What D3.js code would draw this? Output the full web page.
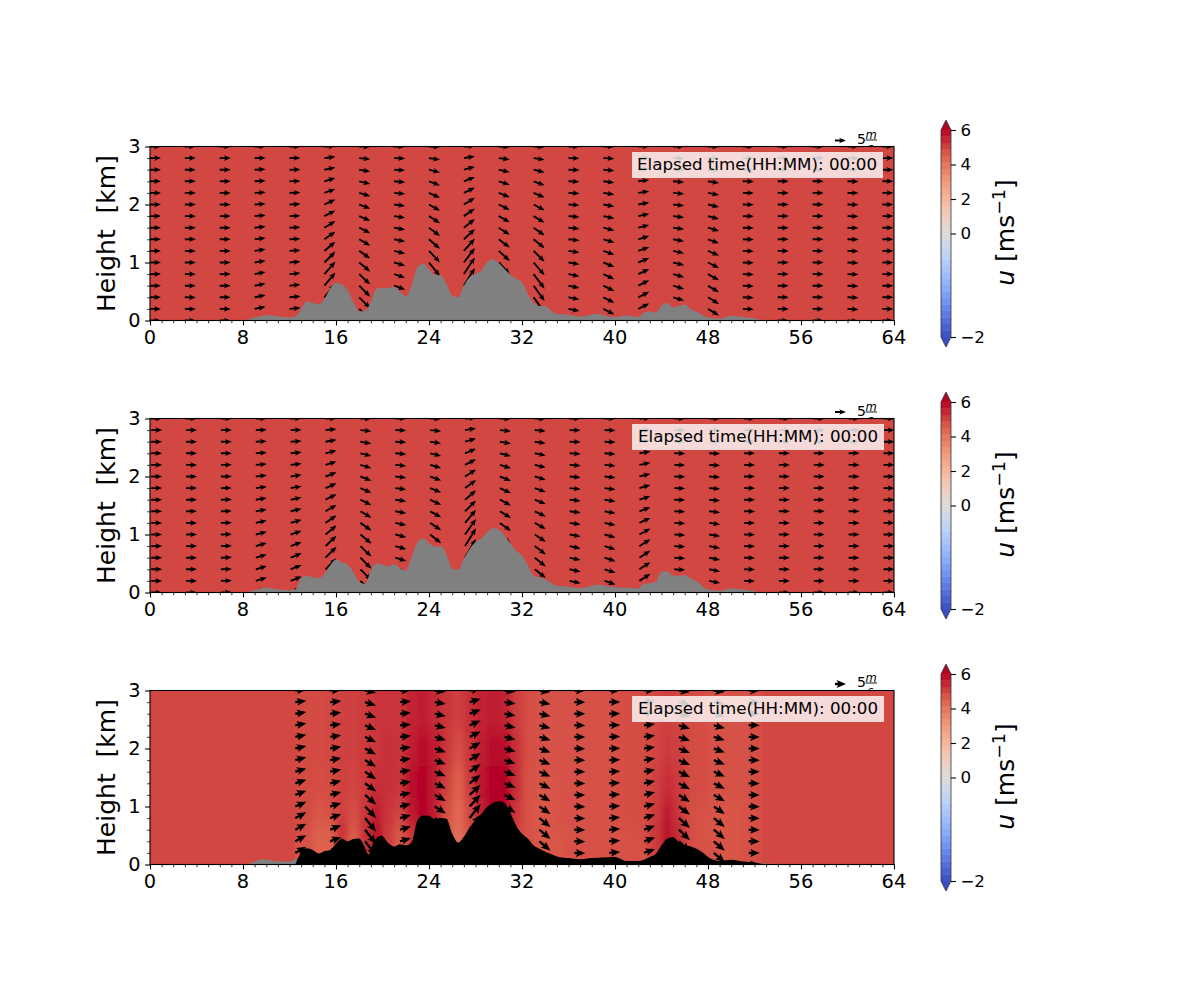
<!DOCTYPE html>
<html><head><meta charset="utf-8">
<script src="https://cdn.jsdelivr.net/npm/d3@7"></script>
<style>html,body{margin:0;padding:0;background:#fff}svg{display:block}text{font-family:"DejaVu Sans";fill:#000;white-space:pre}</style>
</head><body><svg id="c" width="1200" height="1000"></svg>
<script>
// ---- data ----
const xTicks=[0,8,16,24,32,40,48,56,64];
const yTicks=[0,1,2,3];
const cbTicks=[-2,0,2,4,6];
const panelTops=[146.5,418.5,690.5];
const timeLabel="Elapsed time(HH:MM): 00:00";
const baseU=4.9;
const terrainX1=[0,8,9,10,11,12,12.5,13,13.5,14,14.5,15,15.5,16,16.5,17,17.5,18,18.5,19,19.5,20,20.5,21,21.5,22,22.5,23,23.5,24,24.5,25,25.5,26,26.5,27,27.5,28,28.5,29,29.5,30,30.5,31,31.5,32,32.5,33,33.5,34,34.5,35,36,37,38,38.5,39,40,41,42,42.5,43,43.5,44,44.5,45,45.5,46,46.5,47,48,49,50,51,52,53,64];
const terrain1=[0,0,.05,.09,.075,.05,.07,.2,.33,.3,.28,.37,.55,.65,.62,.52,.32,.16,.17,.32,.55,.56,.56,.58,.5,.42,.6,.92,.98,.89,.79,.78,.63,.43,.4,.6,.75,.8,.86,1,1.05,.99,.89,.79,.72,.66,.46,.3,.25,.25,.17,.11,.1,.07,.1,.115,.09,.06,.085,.06,.14,.155,.14,.26,.3,.23,.25,.275,.2,.155,.05,.03,.08,.06,.035,0,0];
const terrain2=[0,0,.04,.08,.05,.04,.05,.25,.29,.26,.25,.32,.47,.57,.52,.48,.35,.18,.15,.38,.5,.48,.45,.49,.42,.38,.6,.87,.93,.85,.79,.8,.66,.41,.39,.58,.75,.87,.93,1.04,1.11,1.08,.98,.85,.72,.64,.47,.29,.26,.23,.17,.115,.1,.075,.115,.14,.12,.09,.08,.07,.155,.16,.18,.36,.36,.29,.29,.3,.24,.195,.05,.03,.07,.05,.02,0,0];
const greyX3=[0,8,8.5,9,9.5,10,11,12,12.5,13,52.7,54,64];
const greyH3=[0,0,.01,.05,.085,.085,.05,.05,.09,.05,.02,0,0];
const terrainX3=[12.5,13,13.5,14,14.5,15,15.5,16,16.5,17,17.5,18,18.4,18.8,19.2,19.9,20.5,21,21.5,22,22.5,23,23.5,24,24.5,25,25.5,26,26.5,27,27.5,28,28.5,29,29.5,30,30.5,31,31.5,32,32.5,33,33.5,34,34.5,35,36,37,38,39,40,41,42,43,43.5,44,44.5,45,45.5,46,46.5,47,47.5,48,49,50,51,52,52.7];
const terrain3=[0,.21,.28,.25,.19,.23,.25,.36,.45,.4,.44,.45,.33,.17,.37,.5,.37,.31,.35,.33,.385,.76,.845,.84,.78,.8,.79,.53,.38,.48,.64,.76,.87,.99,1.06,1.09,1.06,.885,.67,.53,.45,.33,.27,.22,.18,.14,.11,.09,.11,.12,.13,.06,.06,.13,.18,.33,.45,.47,.385,.33,.31,.27,.21,.13,.06,.08,.05,.035,.01];
const arrowHeights=[0,.2,.4,.6,.8,1,1.2,1.4,1.6,1.8,2,2.2,2.4,2.6,2.8,3];
const arrowCols1=[0,3,6,9,12,15,18,21,24,27,30,33,36,39,42,45,48,51,54,57,60,63];
const arrowCols2=[.1,3.1,6.1,9.1,12.1,15.1,18.1,21.1,24.1,27.1,30.1,33.1,36.1,39.1,42.1,45.1,48.1,51.1,54.1,57.1,60.1,63.1];
const arrowCols3=[12.5,15.5,18.5,21.5,24.5,27.5,30.5,33.5,36.5,39.5,42.5,45.5,48.5,51.5];
const tilt1=[0,-.01,0,.2,.1,1.2,-1,-.35,-1.5,1.6,-1.3,-1.4,-.2,-.5,.5,-.3,-.6,-.04,0,0,-.05,0];
const tilt2=[0,0,.03,.3,.4,1,-1,-.3,-.95,1.7,-1.05,-.8,-.22,-.32,.65,-.07,-.2,-.02,0,0,0,0];
const tilt3=[.55,.4,-1.3,.3,-.8,1.35,-.7,-.85,-.03,.08,.35,-.95,-.85,-.02];
const profile12=[1,1,1,1,.95,.83,.7,.58,.5,.43,.38,.3,.25,.17,.1,.03];
const profile3=[1,1,1,1,.95,.8,.68,.58,.52,.47,.42,.37,.32,.28,.23,.15];
const heatX=[12.5,13.5,14.5,15.5,16.5,17.5,18.5,19.5,20.5,21.5,22.5,23.5,24.5,25.5,26.5,27.5,28.5,29.5,30.5,31.5,32.5,33.5,34.5,35.5,36.5,37.5,38.5,39.5,40.5,41.5,42.5,43.5,44.5,45.5,46.5,47.5,48.5,49.5,50.5,51.5,52.5];
const heatH=[.2,.5,.9,1.4,2,2.6];
const heatU02=[4.7,4.7,4.4,4.5,4.8,4.5,5.2,5.5,5,4.6,5,5.5,5.5,4.8,4.1,4.6,5,5.5,5.5,5,4.8,4.7,4.7,4.7,4.75,4.75,4.75,4.75,4.75,4.75,4.75,5,5.5,5.2,4.8,4.75,4.75,4.7,4.7,4.75,4.8];
const heatU05=[4.8,4.75,4.45,4.5,5.4,4.55,5.3,5.8,5.1,4.6,5.2,5.8,5.6,4.7,4.1,4.8,5.4,5.8,5.8,5,4.75,4.65,4.65,4.7,4.75,4.75,4.75,4.75,4.75,4.75,4.8,5.2,5.9,5.4,4.8,4.7,4.7,4.7,4.7,4.75,4.8];
const heatU09=[4.85,4.85,4.7,4.75,5,4.8,5.2,5.6,5.2,5,5.7,6,5.6,4.8,4.3,4.9,5.6,6,6,5.2,4.75,4.65,4.7,4.75,4.75,4.75,4.75,4.75,4.8,4.8,4.85,5.1,5.6,5.2,4.8,4.75,4.7,4.7,4.7,4.75,4.8];
const heatU14=[4.85,4.85,4.8,4.85,5,4.95,5.1,5.3,5.3,5.2,5.8,6,5.6,5,4.5,5.1,5.7,6,6,5.3,4.75,4.7,4.7,4.75,4.75,4.75,4.75,4.75,4.8,4.8,4.85,5,5.3,5.1,4.85,4.8,4.75,4.75,4.75,4.75,4.8];
const heatU20=[4.85,4.85,4.85,4.9,5,5,5.1,5.2,5.3,5.2,5.6,5.9,5.6,5.2,4.8,5.2,5.6,5.9,5.9,5.3,4.8,4.75,4.75,4.75,4.75,4.75,4.75,4.75,4.8,4.8,4.85,4.95,5.1,5,4.85,4.8,4.75,4.75,4.75,4.75,4.8];
const heatU26=[4.85,4.85,4.85,4.9,5,5,5.1,5.2,5.2,5.2,5.5,5.6,5.4,5.2,5,5.3,5.5,5.6,5.5,5.1,4.8,4.75,4.75,4.75,4.75,4.75,4.75,4.75,4.8,4.8,4.85,4.9,5,4.95,4.85,4.8,4.75,4.75,4.75,4.75,4.8];
const heatU=[heatU02,heatU05,heatU09,heatU14,heatU20,heatU26];
const coolwarmStops=["#3b4cc0","#6282ea","#8db0fe","#b8d0f9","#dddcdc","#f5c4ac","#f49a7b","#dd604c","#b40426"];

// ---- scales ----
const svg=d3.select("#c");
const W=744,H=174,L=150;
const x=d3.scaleLinear().domain([0,64]).range([L,L+W]);
const cw=d3.scaleLinear().domain(d3.range(9).map(i=>i/8)).range(coolwarmStops).interpolate(d3.interpolateRgb);
const norm=d3.scaleLinear().domain([-2,0,6]).range([0,.5,1]);
const color=v=>cw(norm(v));
const arrowLen=d3.scaleLinear().domain([0,5]).range([0,11]);

function arrowPath(x0,y0,u,w,st){
  const dx=arrowLen(u),dy=-arrowLen(w),len=Math.hypot(dx,dy);
  const ux=dx/len,uy=dy/len,nx=-uy,ny=ux;
  const P=(a,b)=>[x0+ux*a+nx*b,y0+uy*a+ny*b];
  const p=d3.path();
  const pts=[P(0,-st.sw/2),P(len-st.notch,-st.sw/2),P(len-st.hl,-st.hw/2),P(len,0),P(len-st.hl,st.hw/2),P(len-st.notch,st.sw/2),P(0,st.sw/2)];
  pts.forEach((q,i)=>i?p.lineTo(q[0],q[1]):p.moveTo(q[0],q[1]));
  p.closePath();
  return p.toString();
}
const defs=svg.append("defs");
const blur=defs.append("filter").attr("id","soft").attr("filterUnits","userSpaceOnUse")
  .attr("x",100).attr("y",600).attr("width",900).attr("height",350);
blur.append("feGaussianBlur").attr("stdDeviation","3 9");

const panels=[
 {cols:arrowCols1,tilt:tilt1,prof:profile12,terrainX:terrainX1,terrain:terrain1,st:{sw:1.9,hw:5.6,hl:7,notch:5.6},textX:637,keyDy:-2.5,keyY:-6},
 {cols:arrowCols2,tilt:tilt2,prof:profile12,terrainX:terrainX1,terrain:terrain2,st:{sw:1.9,hw:5.6,hl:7,notch:5.6},textX:638,keyDy:-2.5,keyY:-6.5},
 {cols:arrowCols3,tilt:tilt3,prof:profile3,terrainX:terrainX3,terrain:terrain3,st:{sw:2.4,hw:8,hl:9.5,notch:8},textX:638,keyDy:-3.5,keyY:-6.5,heat:true}
];

panels.forEach((p,pi)=>{
  const top=panelTops[pi];
  const y=d3.scaleLinear().domain([0,3]).range([top+H,top]);
  const g=svg.append("g");

  // quiver key sits behind the panel
  const key=g.append("g");
  key.append("path").attr("d",arrowPath(835,top+p.keyY,5,0,p.st)).attr("fill","#000");
  const ky=top+p.keyDy;
  key.append("text").attr("x",857).attr("y",ky).attr("font-size",14).text("5");
  key.append("text").attr("x",871).attr("y",ky-5.5).attr("text-anchor","middle").attr("font-size",11.5).attr("font-style","italic").text("m");
  key.append("line").attr("x1",865.5).attr("x2",877).attr("y1",ky-4).attr("y2",ky-4).attr("stroke","#000").attr("stroke-width",.9);
  key.append("text").attr("x",870.5).attr("y",ky+7).attr("text-anchor","middle").attr("font-size",10.5).attr("font-style","italic").text("s");

  const cid="clip"+pi;
  defs.append("clipPath").attr("id",cid).append("rect").attr("x",L).attr("y",top).attr("width",W).attr("height",H);
  const plot=g.append("g").attr("clip-path",`url(#${cid})`);
  plot.append("rect").attr("x",L).attr("y",top).attr("width",W).attr("height",H).attr("fill",color(baseU));

  if(p.heat){
    const hid="heatclip"+pi;
    defs.append("clipPath").attr("id",hid).append("rect").attr("x",x(12.5)).attr("y",top).attr("width",x(52.7)-x(12.5)).attr("height",H);
    const hg=plot.append("g").attr("clip-path",`url(#${hid})`).append("g").attr("filter","url(#soft)");
    const edges=[-.6,...heatH.slice(1).map((h,i)=>(h+heatH[i])/2),3.6];
    heatH.forEach((h,r)=>{
      hg.selectAll(null).data(heatU[r]).enter().append("rect")
        .attr("x",(d,i)=>x(heatX[i]-(i?.5:2)))
        .attr("width",(d,i)=>x(heatX[i]+(i==heatX.length-1?2:.52))-x(heatX[i]-(i?.5:2)))
        .attr("y",y(edges[r+1])).attr("height",y(edges[r])-y(edges[r+1])+.5)
        .attr("fill",d=>color(d));
    });
  }

  // arrows
  const arrows=[];
  p.cols.forEach((c,ci)=>arrowHeights.forEach((h,ri)=>arrows.push({c,h,t:p.tilt[ci]*p.prof[ri]})));
  plot.selectAll("path.a").data(arrows).enter().append("path").attr("class","a")
    .attr("d",d=>arrowPath(x(d.c),y(d.h),5,5*d.t,p.st)).attr("fill","#000");

  // terrain
  const area=d3.area().x(d=>x(d[0])).y0(y(0)).y1(d=>y(d[1])).curve(d3.curveMonotoneX);
  if(p.heat){
    plot.append("path").attr("d",area(d3.zip(greyX3,greyH3))).attr("fill","#808080");
    plot.append("path").attr("d",area(d3.zip(p.terrainX,p.terrain))).attr("fill","#000");
  } else {
    plot.append("path").attr("d",area(d3.zip(p.terrainX,p.terrain))).attr("fill","#808080");
  }

  // time label
  g.append("rect").attr("x",632).attr("y",top+5.5).attr("width",pi==0?251:252).attr("height",26).attr("fill","#fff").attr("fill-opacity",.8);
  g.append("text").attr("x",p.textX).attr("y",top+23.7).attr("font-size",16.4).attr("textLength",240).attr("lengthAdjust","spacingAndGlyphs").text(timeLabel);

  // axes
  const ax=d3.axisBottom(x).tickValues(xTicks).tickSize(4.9).tickPadding(4.5).tickFormat(d3.format("d"));
  const axg=g.append("g").attr("transform",`translate(0,${top+H})`).call(ax);
  const ay=d3.axisLeft(y).tickValues(yTicks).tickSize(4.9).tickPadding(4.5).tickFormat(d3.format("d"));
  const ayg=g.append("g").attr("transform",`translate(${L},0)`).call(ay);
  [axg,ayg].forEach(a=>{a.select(".domain").remove();a.selectAll("text").attr("font-size",19.4).style("font-family",'"DejaVu Sans"');a.selectAll("line").attr("stroke","#000").attr("stroke-width",1.1);});
  axg.selectAll("text").attr("dy","0.72em").attr("dx",-.6);
  const amx=d3.axisBottom(x).tickValues(d3.range(0,65).filter(d=>d%8)).tickSize(2.8).tickFormat("");
  const amy=d3.axisLeft(y).tickValues(d3.range(0,16).map(i=>i/5).filter(d=>Math.abs(d-Math.round(d))>1e-6)).tickSize(2.8).tickFormat("");
  const m1=g.append("g").attr("transform",`translate(0,${top+H})`).call(amx);
  const m2=g.append("g").attr("transform",`translate(${L},0)`).call(amy);
  [m1,m2].forEach(a=>{a.select(".domain").remove();a.selectAll("line").attr("stroke","#000").attr("stroke-width",.8);});
  g.append("rect").attr("x",L).attr("y",top).attr("width",W).attr("height",H).attr("fill","none").attr("stroke","#000").attr("stroke-width",1.1);

  g.append("text").attr("transform",`translate(115,${top+87}) rotate(-90)`).attr("text-anchor","middle").attr("font-size",25).text("Height  [km]");

  // colour bar
  const cbTop=top-16.5, cbBot=top+190.5, cbL=941, cbW=10;
  const cy=d3.scaleLinear().domain([-2,0,6]).range([cbBot,(cbTop+cbBot)/2,cbTop]);
  const cb=g.append("g");
  const levels=d3.range(0,32);
  cb.selectAll(null).data(levels).enter().append("rect")
    .attr("x",cbL).attr("width",cbW)
    .attr("y",d=>cbBot-(d+1)/32*(cbBot-cbTop)-.2).attr("height",(cbBot-cbTop)/32+.4)
    .attr("fill",d=>cw((d+.5)/32));
  cb.append("path").attr("d",`M${cbL},${cbTop}L${cbL+cbW/2},${cbTop-10}L${cbL+cbW},${cbTop}Z`).attr("fill","#b40426");
  cb.append("path").attr("d",`M${cbL},${cbBot}L${cbL+cbW/2},${cbBot+10}L${cbL+cbW},${cbBot}Z`).attr("fill","#3b4cc0");
  cb.append("path").attr("d",`M${cbL},${cbTop}L${cbL+cbW/2},${cbTop-10}L${cbL+cbW},${cbTop}V${cbBot}L${cbL+cbW/2},${cbBot+10}L${cbL},${cbBot}Z`).attr("fill","none").attr("stroke","#333").attr("stroke-width",.8);
  const acb=d3.axisRight(cy).tickValues(cbTicks).tickSize(4.9).tickPadding(4.5).tickFormat(d=>d<0?"\u2212"+(-d):d);
  const acg=cb.append("g").attr("transform",`translate(${cbL+cbW},0)`).call(acb);
  acg.select(".domain").remove();
  acg.selectAll("line").attr("stroke","#000").attr("stroke-width",1.1);
  acg.selectAll("text").attr("font-size",16.7).style("font-family",'"DejaVu Sans"');

  const lab=g.append("text").attr("transform",`translate(1014,${(cbTop+cbBot)/2-1}) rotate(-90)`).attr("text-anchor","middle").attr("font-size",25);
  lab.append("tspan").attr("font-style","italic").text("u");
  lab.append("tspan").text(" [ms");
  lab.append("tspan").attr("font-size",17.5).attr("dy",-9).text("\u22121");
  lab.append("tspan").attr("dy",9).text("]");
});
</script></body></html>
